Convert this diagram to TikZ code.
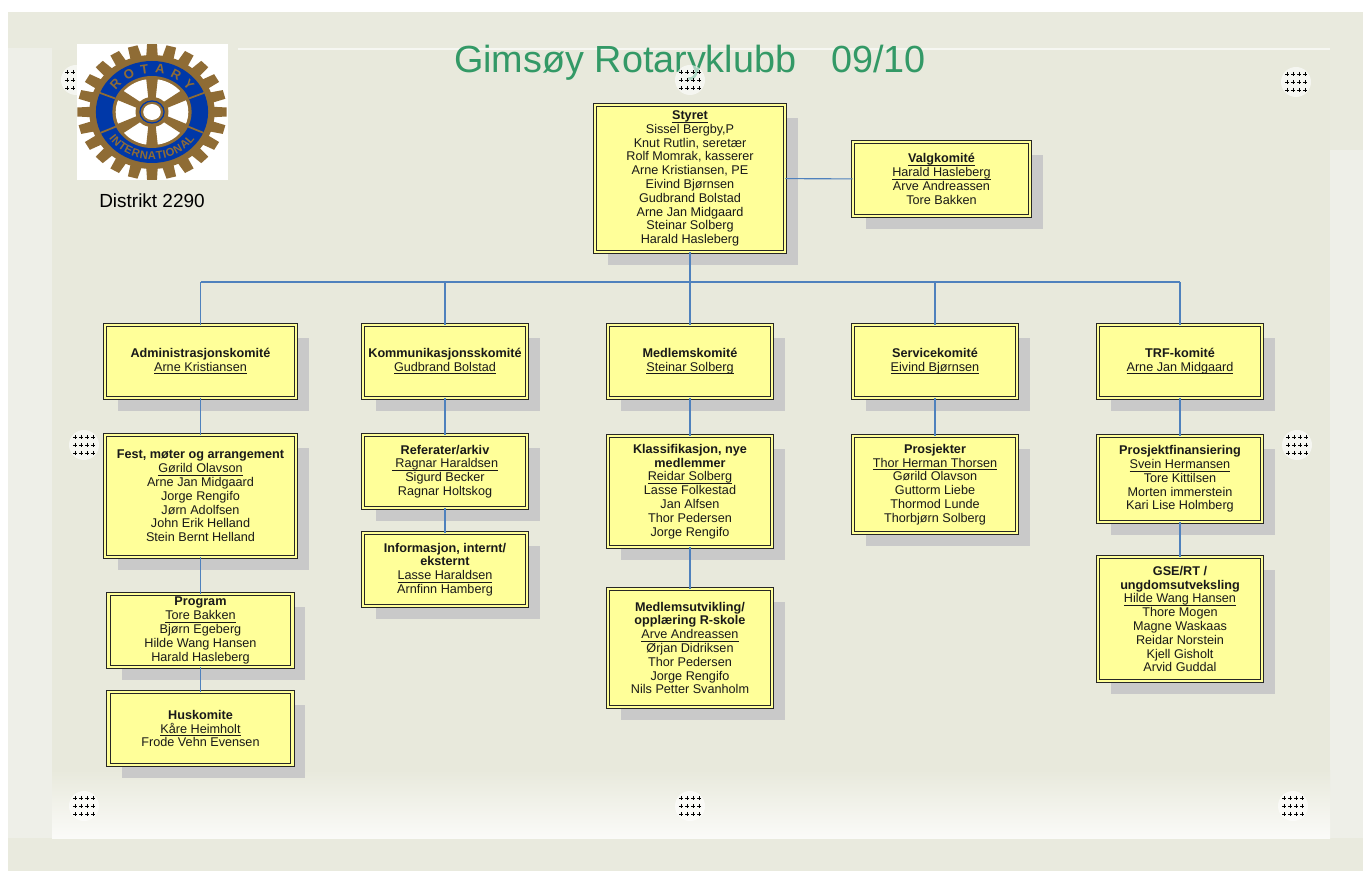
\documentclass[tikz,border=0pt]{standalone}
\usepackage{fontspec}
\setmainfont{Liberation Sans}
\usetikzlibrary{shadows,decorations.text}

\definecolor{bgouter}{HTML}{E9EADE}
\definecolor{bglight}{HTML}{EEEFE8}
\definecolor{bgpanel}{HTML}{E8E9DC}
\definecolor{boxyellow}{HTML}{FFFF99}
\definecolor{shadowgray}{HTML}{C9C9C9}
\definecolor{linkblue}{HTML}{4F81BD}
\definecolor{titlegreen}{HTML}{339966}
\definecolor{rgold}{HTML}{8F6C35}
\definecolor{rblue}{HTML}{0038A8}

\newcommand\logofont{\fontsize{7.4}{8}\selectfont\bfseries}
\newcommand\logofontsmall{\fontsize{6.4}{7}\selectfont\bfseries}
\newcommand\navn[1]{\underline{\raisebox{0pt}[\height][0pt]{#1}}}

\tikzset{
  komite/.style={draw=black!85, line width=.55pt, double=boxyellow, double distance=1.2pt, fill=boxyellow,
    align=center, inner sep=1pt, text=black!90, font=\fontsize{7.2}{7.85}\selectfont,
    drop shadow={shadow xshift=.26cm, shadow yshift=-.26cm, fill=shadowgray, opacity=1}},
  link/.style={draw=linkblue, line width=.6pt},
  handle/.style={black, line width=.55pt},
}

\begin{document}
\begin{tikzpicture}[x=0.02cm, y=-0.02cm]
   \useasboundingbox (0,0) rectangle (1363,871);
   % background
   \fill[white] (0,0) rectangle (1363,871);
   \fill[bgouter] (8,12) rectangle (1363,871);
   \fill[bglight] (8,48) rectangle (52,838);
   \fill[bglight] (1330,150) rectangle (1363,838);
   \fill[white!60!bgouter] (238,48) rectangle (1330,50);
   \fill[bgpanel] (52,50) rectangle (1330,838);
   \shade[top color=bgpanel, bottom color=white!80!bgpanel] (52,770) rectangle (1330,838);

   \node[font=\fontsize{21.5}{24}\selectfont, text=titlegreen, anchor=base] (titel) at (690,73) {Gimsøy Rotaryklubb\hspace{19.9pt}09/10};

   \foreach \hx/\hy in {76/80, 690/80, 1296/82, 84/445, 1297/445, 84/806, 690/806, 1293/806}{
      \fill[white, opacity=.6] (\hx,\hy) circle (15);
      \foreach \dx in {-9,-3,3,9}
         \foreach \dy in {-8,0,8}
            \draw[handle] (\hx+\dx-2,\hy+\dy) -- (\hx+\dx+2,\hy+\dy) (\hx+\dx,\hy+\dy-2) -- (\hx+\dx,\hy+\dy+2);
   }

   % logo
   \fill[white] (77,44) rectangle (228,180);
   \begin{scope}[shift={(152,112)}, x=0.022cm, y=0.02cm]
      \foreach \a in {0,15,...,345}
         \fill[rgold] (\a-5.5:55) -- (\a-3.8:68) -- (\a+3.8:68) -- (\a+5.5:55) -- cycle;
      \fill[rgold] (0,0) circle (57);
      \fill[rblue] (0,0) circle (51);
      \fill[rgold] (0,0) circle (36);
      \fill[white] (0,0) circle (33);
      \foreach \a in {30,90,...,330}
         \fill[rgold] (\a-16:11) -- (\a-9:34) -- (\a+9:34) -- (\a+16:11) -- cycle;
      \fill[rgold] (0,0) circle (15);
      \draw[rblue, line width=.7pt] (0,0) circle (11);
      \fill[white] (0,0) circle (8);
      \foreach \a in {22,158,204,336}
         \draw[rgold, line width=1pt] (\a:36) -- (\a:51);
      \path[decorate, decoration={text along path, text={|\logofont|ROTARY}, text align=fit to path, raise=-2.6pt, text color=rgold}]
         (146:43.5) arc[start angle=146, end angle=34, radius=43.5];
      \path[decorate, decoration={text along path, text={|\logofontsmall|INTERNATIONAL}, text align=center, raise=-2.3pt, text color=rgold}]
         (204:43.5) arc[start angle=204, end angle=336, radius=43.5];
   \end{scope}
   \node[font=\fontsize{10.8}{12}\selectfont, anchor=base] (distrikt) at (152,208) {Distrikt 2290};

   \node[komite, minimum width=3.8cm, minimum height=2.94cm] (styret) at (690,178.5) {\textbf{\navn{Styret}}\\Sissel Bergby,P\\Knut Rutlin, seretær\\Rolf Momrak, kasserer\\Arne Kristiansen, PE\\Eivind Bjørnsen\\Gudbrand Bolstad\\Arne Jan Midgaard\\Steinar Solberg\\Harald Hasleberg};
   \node[komite, minimum width=3.54cm, minimum height=1.48cm] (valg) at (941.5,179) {\textbf{\navn{Valgkomité}}\\\navn{Harald Hasleberg}\\Arve Andreassen\\Tore Bakken};

   \node[komite, minimum width=3.82cm, minimum height=1.46cm] (admin) at (200.5,361.5) {\textbf{Administrasjonskomité}\\\navn{Arne Kristiansen}};
   \node[komite, minimum width=3.28cm, minimum height=1.46cm] (komm) at (445,361.5) {\textbf{Kommunikasjonsskomité}\\\navn{Gudbrand Bolstad}};
   \node[komite, minimum width=3.28cm, minimum height=1.46cm] (medlem) at (690,361.5) {\textbf{Medlemskomité}\\\navn{Steinar Solberg}};
   \node[komite, minimum width=3.28cm, minimum height=1.46cm] (service) at (935,361.5) {\textbf{Servicekomité}\\\navn{Eivind Bjørnsen}};
   \node[komite, minimum width=3.28cm, minimum height=1.46cm] (trf) at (1180,361.5) {\textbf{TRF-komité}\\\navn{Arne Jan Midgaard}};

   \node[komite, minimum width=3.82cm, minimum height=2.44cm] (fest) at (200.5,496) {\textbf{Fest, møter og arrangement}\\\navn{Gørild Olavson}\\Arne Jan Midgaard\\Jorge Rengifo\\Jørn Adolfsen\\John Erik Helland\\Stein Bernt Helland};
   \node[komite, minimum width=3.68cm, minimum height=1.46cm] (program) at (200.5,630.5) {\textbf{Program}\\\navn{Tore Bakken}\\Bjørn Egeberg\\Hilde Wang Hansen\\Harald Hasleberg};
   \node[komite, minimum width=3.68cm, minimum height=1.46cm] (hus) at (200.5,728.5) {\textbf{Huskomite}\\\navn{Kåre Heimholt}\\Frode Vehn Evensen};

   \node[komite, minimum width=3.28cm, minimum height=1.46cm] (referat) at (445,471.5) {\textbf{Referater/arkiv}\\\navn{~Ragnar Haraldsen}\\Sigurd Becker\\Ragnar Holtskog};
   \node[komite, minimum width=3.28cm, minimum height=1.46cm] (info) at (445,569.5) {\textbf{Informasjon, internt/}\\\textbf{eksternt}\\\navn{Lasse Haraldsen}\\Arnfinn Hamberg};

   \node[komite, minimum width=3.28cm, minimum height=2.22cm] (klass) at (690,491.5) {\textbf{Klassifikasjon, nye}\\\textbf{medlemmer}\\\navn{Reidar Solberg}\\Lasse Folkestad\\Jan Alfsen\\Thor Pedersen\\Jorge Rengifo};
   \node[komite, minimum width=3.28cm, minimum height=2.36cm] (utvikl) at (690,648) {\textbf{Medlemsutvikling/}\\\textbf{opplæring R-skole}\\\navn{Arve Andreassen}\\Ørjan Didriksen\\Thor Pedersen\\Jorge Rengifo\\Nils Petter Svanholm};

   \node[komite, minimum width=3.28cm, minimum height=1.94cm] (prosj) at (935,484.5) {\textbf{Prosjekter}\\\navn{Thor Herman Thorsen}\\Gørild Olavson\\Guttorm Liebe\\Thormod Lunde\\Thorbjørn Solberg};

   \node[komite, minimum width=3.28cm, minimum height=1.72cm] (finans) at (1180,479) {\textbf{Prosjektfinansiering}\\\navn{Svein Hermansen}\\Tore Kittilsen\\Morten immerstein\\Kari Lise Holmberg};
   \node[komite, minimum width=3.28cm, minimum height=2.48cm] (gse) at (1180,619) {\textbf{GSE/RT /}\\\textbf{ungdomsutveksling}\\\navn{Hilde Wang Hansen}\\Thore Mogen\\Magne Waskaas\\Reidar Norstein\\Kjell Gisholt\\Arvid Guddal};

   \coordinate (buss) at (690,282);
   \draw[link] (styret) -- (buss);
   \draw[link] (admin.north |- buss) -- (trf.north |- buss);
   \foreach \k in {admin,komm,medlem,service,trf}
      \draw[link] (\k.north |- buss) -- (\k);
   \foreach \a/\b in {styret/valg, admin/fest, fest/program, program/hus, komm/referat, referat/info, medlem/klass, klass/utvikl, service/prosj, trf/finans, finans/gse}
      \draw[link] (\a) -- (\b);
\end{tikzpicture}
\end{document}
